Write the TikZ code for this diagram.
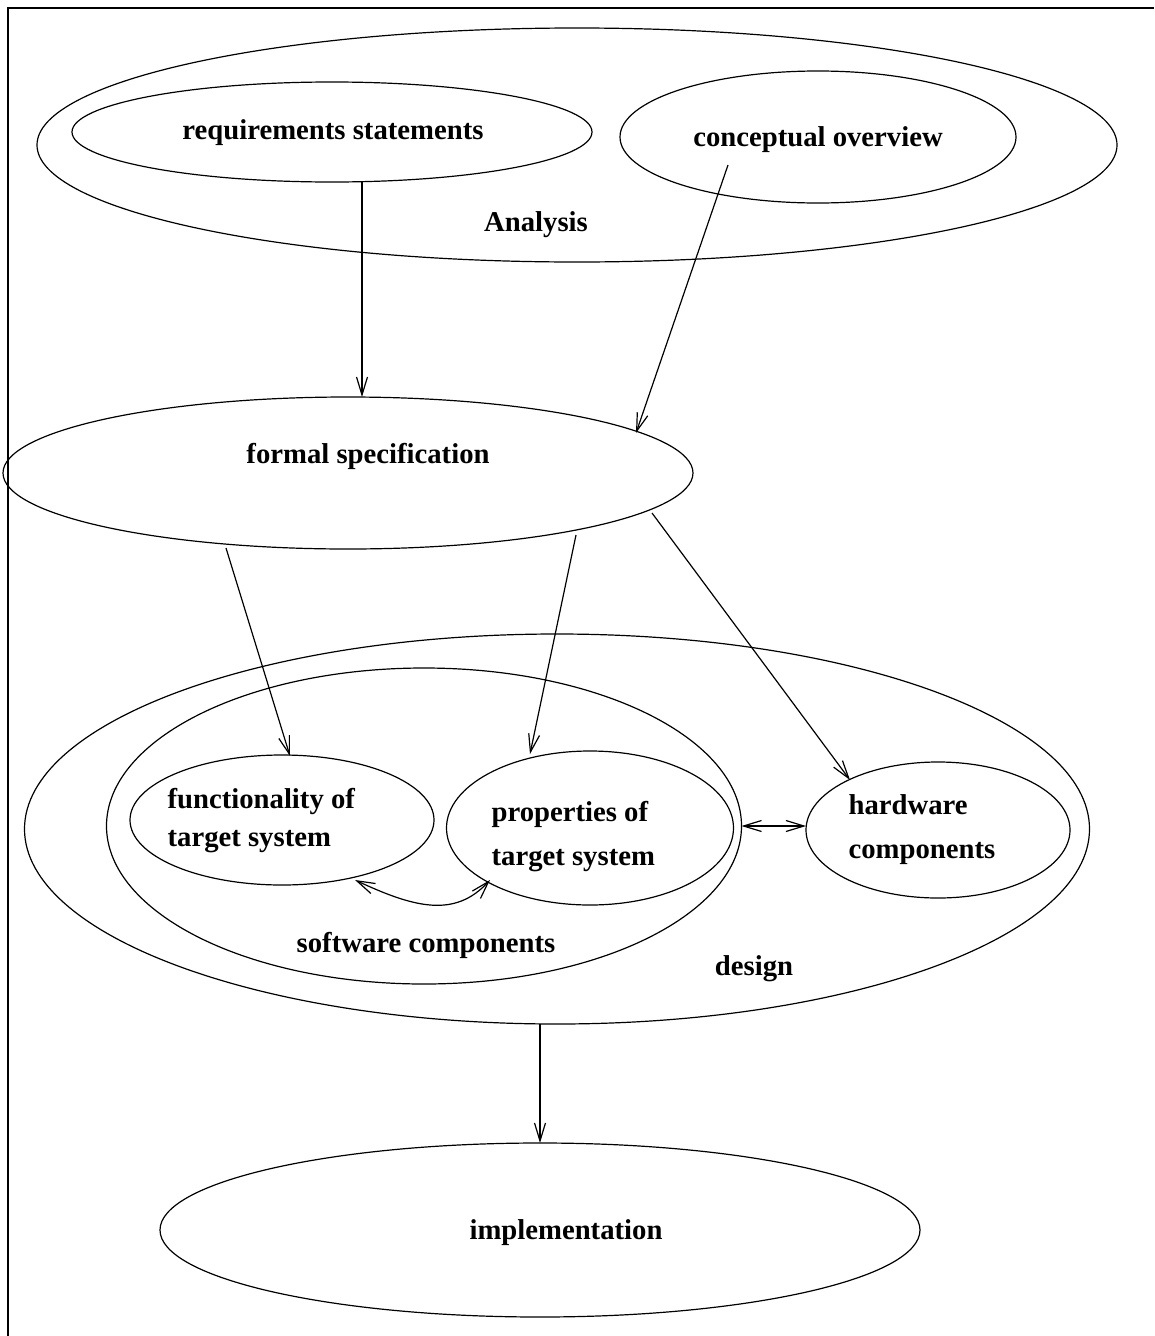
\documentclass[tikz,border=0pt]{standalone}
\usepackage{fontspec}
\setmainfont{Liberation Serif}
\usetikzlibrary{shapes.geometric,arrows.meta,calc}

\begin{document}
\begin{tikzpicture}[x=1pt,y=-1pt,line width=1.2pt,
  oval/.style={draw,ellipse,inner sep=0pt,outer sep=0pt},
  lbl/.style={font=\fontsize{28.7}{44}\selectfont\bfseries,inner sep=0pt,align=left},
  barb/.tip={Straight Barb[length=18pt,width=11pt]},
  arr/.style={-barb},
  both/.style={barb-barb}]
\useasboundingbox (0,0) rectangle (1154,1336);

% frame
\draw[line width=2pt] (8,1336) -- (8,8) -- (1154,8);

% analysis phase
\node[oval,minimum width=1080,minimum height=234] (analysis) at (577,145) {};
\node[oval,minimum width=520,minimum height=100] (req) at (332,132) {};
\node[oval,minimum width=396,minimum height=132] (co) at (818,137) {};
\node[lbl] (reqt) at (333,133) {requirements statements};
\node[lbl] (cot) at (818,140) {conceptual overview};
\node[lbl] (analysist) at (536,225) {Analysis};

% specification
\node[oval,minimum width=690,minimum height=152] (fs) at (348,473) {};
\node[lbl] (fst) at (368,456) {formal specification};

% design phase
\node[oval,minimum width=1065,minimum height=390] (design) at (557,829) {};
\node[oval,minimum width=635,minimum height=316] (sw) at (424,826) {};
\node[oval,minimum width=304,minimum height=130] (func) at (282,820) {};
\node[oval,minimum width=287,minimum height=154] (prop) at (590,828) {};
\node[oval,minimum width=264,minimum height=136] (hw) at (938,830) {};
\node[lbl,anchor=west,font=\fontsize{28.7}{38}\selectfont\bfseries] (funct) at (167,821) {functionality of\\target system};
\node[lbl,anchor=west] (propt) at (491,837) {properties of\\target system};
\node[lbl,anchor=west] (hwt) at (848,830) {hardware\\components};
\node[lbl] (swt) at (426,945) {software components};
\node[lbl] (designt) at (754,969) {design};

% implementation
\node[oval,minimum width=760,minimum height=174] (impl) at (540,1230) {};
\node[lbl] (implt) at (566,1233) {implementation};

% connectors
\draw[arr] ($(req.center)+(30,50)$) -- ($(fs.center)+(14,-76)$);
\draw[arr] ($(co.center)+(-90,28)$) -- ($(fs.center)+(288,-40)$);
\draw[arr] ($(fs.center)+(-122,75)$) -- ($(func.center)+(8,-64)$);
\draw[arr] ($(fs.center)+(228,62)$) -- ($(prop.center)+(-60,-74)$);
\draw[arr] ($(fs.center)+(304,40)$) -- ($(hw.center)+(-88,-50)$);
\draw[both] (sw.east) -- (sw.east -| hw.west);
\draw[both] ($(func.center)+(73,60)$) .. controls +(60,28) and +(-35,38) .. ($(prop.center)+(-100,52)$);
\draw[arr] (impl.north |- design.south) -- (impl.north);
\end{tikzpicture}
\end{document}
